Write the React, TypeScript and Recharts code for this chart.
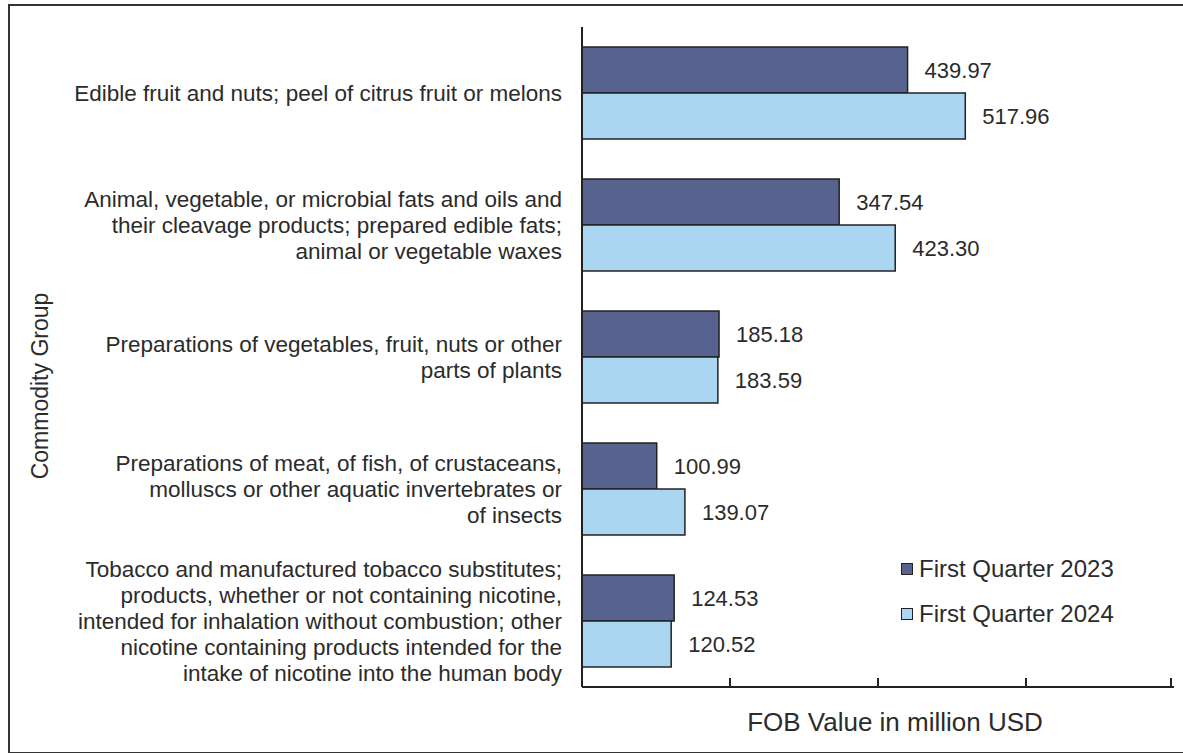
import React from "react";
import { Bar, BarChart, LabelList, Legend, XAxis, YAxis } from "recharts";

const categoryLines: string[][] = [
  ["Edible fruit and nuts; peel of citrus fruit or melons"],
  [
    "Animal, vegetable, or microbial fats and oils and",
    "their cleavage products; prepared edible fats;",
    "animal or vegetable waxes",
  ],
  ["Preparations of vegetables, fruit, nuts or other", "parts of plants"],
  [
    "Preparations of meat, of fish, of crustaceans,",
    "molluscs or other aquatic invertebrates or",
    "of insects",
  ],
  [
    "Tobacco and manufactured tobacco substitutes;",
    "products, whether or not containing nicotine,",
    "intended for inhalation without combustion; other",
    "nicotine containing products intended for the",
    "intake of nicotine into the human body",
  ],
];

const q2023 = [439.97, 347.54, 185.18, 100.99, 124.53];
const q2024 = [517.96, 423.3, 183.59, 139.07, 120.52];
const xTicks = [0, 200, 400, 600, 800];

const seriesNames = ["First Quarter 2023", "First Quarter 2024"];
const DARK = "#58628e";
const LIGHT = "#aad6f2";
const FONT = "'Liberation Sans', Arial, sans-serif";

const data = categoryLines.map((lines, i) => ({
  name: lines.join(" "),
  q2023: q2023[i],
  q2024: q2024[i],
}));

function CategoryTick(props: any) {
  const { x, y, payload } = props;
  const lines: string[] = categoryLines[payload.index] ?? [payload.value];
  const lh = 26;
  const start = -((lines.length - 1) / 2) * lh;
  return (
    <text x={x} y={y} textAnchor="end" fontFamily={FONT} fontSize={22.5} fill="#2b2b2b">
      {lines.map((l, i) => (
        <tspan key={i} x={x - 12} y={y + start + i * lh} dy="0.35em">
          {l}
        </tspan>
      ))}
    </text>
  );
}

// x axis ticks point up into the plot
function UpTick(props: any) {
  const { x, y } = props;
  return <line x1={x} x2={x} y1={y} y2={y - 9} stroke="#222" strokeWidth={2} />;
}

function LegendBox() {
  const colors = [DARK, LIGHT];
  return (
    <div style={{ fontFamily: FONT, fontSize: 24, color: "#2b2b2b" }}>
      {seriesNames.map((n, i) => (
        <div key={n} style={{ display: "flex", alignItems: "center", height: 45 }}>
          <span
            style={{
              display: "inline-block",
              width: 10,
              height: 10,
              background: colors[i],
              border: "1.5px solid #222",
              marginRight: 6,
            }}
          />
          {n}
        </div>
      ))}
    </div>
  );
}

export default function App() {
  return (
    <div
      style={{
        position: "absolute",
        left: 0,
        top: 0,
        width: 1183,
        height: 753,
        background: "#fff",
        overflow: "hidden",
      }}
    >
      <div
        style={{
          position: "absolute",
          left: 8,
          top: 4,
          width: 1200,
          height: 746,
          border: "2px solid #333",
        }}
      />
      <div style={{ position: "absolute", left: 0, top: 0 }}>
        <BarChart
          width={1183}
          height={753}
          data={data}
          layout="vertical"
          margin={{ top: 27, right: 9, bottom: 36, left: 0 }}
          barCategoryGap={20}
          barGap={0}
        >
          <XAxis
            type="number"
            domain={[0, 800]}
            ticks={xTicks}
            tick={<UpTick />}
            tickLine={false}
            tickSize={0}
            tickMargin={0}
            height={30}
            axisLine={{ stroke: "#222", strokeWidth: 2 }}
          />
          <YAxis
            type="category"
            dataKey="name"
            width={582}
            axisLine={{ stroke: "#222", strokeWidth: 2 }}
            tickLine={false}
            tick={<CategoryTick />}
            interval={0}
          />
          <Legend
            layout="horizontal"
            verticalAlign="middle"
            align="center"
            content={<LegendBox />}
            wrapperStyle={{ left: 901, top: 546, width: 270, height: 90 }}
          />
          <Bar
            dataKey="q2023"
            name={seriesNames[0]}
            fill={DARK}
            stroke="#222"
            strokeWidth={1.5}
            isAnimationActive={false}
          >
            <LabelList
              dataKey="q2023"
              position="right"
              offset={17}
              formatter={(v: any) => Number(v).toFixed(2)}
              style={{ fontFamily: FONT, fontSize: 22, fill: "#2b2b2b" }}
            />
          </Bar>
          <Bar
            dataKey="q2024"
            name={seriesNames[1]}
            fill={LIGHT}
            stroke="#222"
            strokeWidth={1.5}
            isAnimationActive={false}
          >
            <LabelList
              dataKey="q2024"
              position="right"
              offset={17}
              formatter={(v: any) => Number(v).toFixed(2)}
              style={{ fontFamily: FONT, fontSize: 22, fill: "#2b2b2b" }}
            />
          </Bar>
        </BarChart>
      </div>
      <div
        style={{
          position: "absolute",
          left: 40,
          top: 386,
          transform: "translate(-50%, -50%) rotate(-90deg)",
          fontFamily: FONT,
          fontSize: 23,
          color: "#2b2b2b",
          whiteSpace: "nowrap",
        }}
      >
        Commodity Group
      </div>
      <div
        style={{
          position: "absolute",
          left: 895,
          top: 722,
          transform: "translate(-50%, -50%)",
          fontFamily: FONT,
          fontSize: 26,
          color: "#2b2b2b",
          whiteSpace: "nowrap",
        }}
      >
        FOB Value in million USD
      </div>
    </div>
  );
}
